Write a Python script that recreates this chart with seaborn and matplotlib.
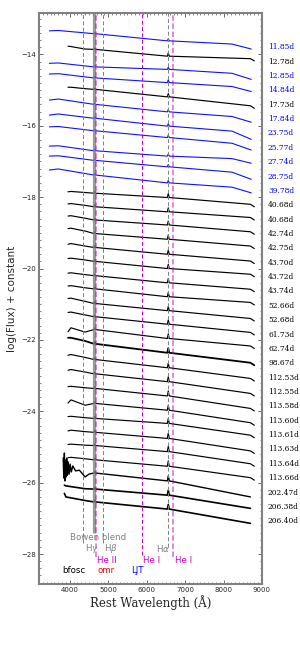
import numpy as np
import pandas as pd
import matplotlib
matplotlib.use("Agg")
import matplotlib.pyplot as plt
import matplotlib.transforms as mtransforms
from matplotlib.ticker import MultipleLocator
import seaborn as sns

sns.set_style("ticks")
plt.rcParams['font.family'] = ['DejaVu Sans']

# LJT spectra (blue), continuum knots in Angstrom
wl_ljt = [3470, 3700, 4650, 6563, 8220, 8720]
flux_ljt = [
    [-13.34, -13.33, -13.42, -13.62, -13.71, -13.85],
    [-14.25, -14.24, -14.35, -14.42, -14.53, -14.70],
    [-14.55, -14.54, -14.66, -14.79, -14.90, -15.04],
    [-15.28, -15.25, -15.40, -15.61, -15.74, -15.90],
    [-15.70, -15.67, -15.79, -16.01, -16.15, -16.38],
    [-16.03, -16.02, -16.14, -16.33, -16.49, -16.68],
    [-16.57, -16.56, -16.70, -16.85, -16.92, -17.05],
    [-16.85, -16.84, -16.97, -17.15, -17.30, -17.50],
    [-17.24, -17.21, -17.38, -17.60, -17.72, -17.88],
]
ha_ljt = [0.06, 0.06, 0.08, 0.07, 0.07, 0.07, 0.06, 0.07, 0.07]
heii_ljt = [0.04, 0.04, 0.05, 0.04, 0.04, 0.04, 0.04, 0.04, 0.04]

# bfosc spectra (black)
wl_bf = [3955, 4030, 4400, 4650, 6563, 8700, 8800]
flux_bf = [
    [-13.77, -13.78, -13.85, -13.86, -14.05, -14.12, -14.18],
    [-14.92, -14.92, -14.96, -14.98, -15.19, -15.44, -15.51],
    [-17.85, -17.84, -17.87, -17.89, -18.01, -18.20, -18.27],
    [-18.19, -18.18, -18.23, -18.27, -18.41, -18.57, -18.64],
    [-18.53, -18.52, -18.59, -18.64, -18.78, -18.97, -19.04],
    [-18.88, -18.87, -18.95, -19.02, -19.18, -19.37, -19.44],
    [-19.32, -19.30, -19.37, -19.41, -19.60, -19.79, -19.86],
    [-19.72, -19.71, -19.76, -19.80, -20.00, -20.16, -20.23],
    [-20.13, -20.12, -20.17, -20.20, -20.40, -20.58, -20.65],
    [-20.49, -20.48, -20.54, -20.57, -20.79, -20.95, -21.02],
    [-20.84, -20.83, -20.92, -20.98, -21.18, -21.40, -21.47],
    [-21.23, -21.22, -21.30, -21.35, -21.56, -21.79, -21.86],
    [-21.77, -21.66, -21.78, -21.71, -21.96, -22.17, -22.24],
    [-21.94, -21.94, -22.03, -22.11, -22.36, -22.64, -22.71],
    [-22.43, -22.41, -22.49, -22.55, -22.78, -23.08, -23.15],
    [-22.85, -22.83, -22.90, -22.95, -23.17, -23.50, -23.57],
    [-23.31, -23.30, -23.34, -23.36, -23.57, -23.92, -23.99],
    [-23.77, -23.68, -23.83, -23.78, -23.97, -24.32, -24.39],
    [-24.15, -24.14, -24.18, -24.20, -24.34, -24.67, -24.74],
    [-24.55, -24.53, -24.57, -24.59, -24.76, -25.11, -25.18],
    [-24.93, -24.92, -24.95, -24.96, -25.13, -25.47, -25.54],
    [-25.30, -25.29, -25.33, -25.36, -25.54, -25.86, -25.93],
]
ha_bf = [0.09, 0.09, 0.11, 0.11, 0.11, 0.12, 0.12, 0.12, 0.12, 0.12, 0.12,
         0.12, 0.13, 0.13, 0.13, 0.14, 0.14, 0.14, 0.14, 0.15, 0.15, 0.15]
heii_bf = [0.04] * 2 + [0.05] * 20
noisy_bf = [False] * 13 + [True] + [False] * 8

# late bfosc spectra, bluer start, no red hook
wl_late = [3860, 3900, 4400, 4650, 6563, 8700]
flux_late = [
    [-26.07, -26.09, -26.17, -26.18, -26.35, -26.72],
    [-26.30, -26.40, -26.50, -26.54, -26.74, -27.14],
]
ha_late = [0.14, 0.13]

# 202.47d, very noisy blue end
wl_noisy = [3830, 3845, 3860, 3875, 3890, 3905, 3920, 3940, 3960, 3985,
            4010, 4040, 4080, 4150, 4250, 4400, 4500, 4650, 6563, 8700]
flux_noisy = [-25.31, -25.87, -25.17, -25.95, -25.37, -25.84, -25.31, -25.79,
              -25.42, -25.76, -25.48, -25.70, -25.53, -25.67, -25.65, -25.84,
              -25.76, -25.73, -25.95, -26.40]

phases = ["11.85d", "12.78d", "12.85d", "14.84d", "17.73d", "17.84d", "23.75d",
          "25.77d", "27.74d", "28.75d", "39.78d", "40.68d", "40.68d", "42.74d",
          "42.75d", "43.70d", "43.72d", "43.74d", "52.66d", "52.68d", "61.73d",
          "62.74d", "98.67d", "112.53d", "112.55d", "113.58d", "113.60d",
          "113.61d", "113.63d", "113.64d", "113.66d", "202.47d", "206.38d",
          "206.40d"]
label_colors = ["blue", "black", "blue", "blue", "black"] + ["blue"] * 6 + ["black"] * 23


def spectrum(wl, fl, ha, heii):
    xs, ys = [], []
    for w, f in zip(wl, fl):
        if w == 6563:
            xs += [w - 25, w, w + 25]
            ys += [f, f + ha, f]
        elif w == 4650:
            xs += [w - 20, w, w + 20]
            ys += [f, f + heii, f]
        else:
            xs.append(w)
            ys.append(f)
    return pd.DataFrame({"wave": xs, "flux": ys})


fig = plt.figure(figsize=(3.0, 6.5), dpi=100)
ax = fig.add_axes([0.13, 0.1015, 0.7433, 0.8785])
ymin, ymax = -28.84, -12.84

for fl, ha, he in zip(flux_ljt, ha_ljt, heii_ljt):
    sns.lineplot(data=spectrum(wl_ljt, fl, ha, he), x="wave", y="flux", sort=False,
                 estimator=None, color="#1010ff", lw=0.8, ax=ax)
for fl, ha, he, nz in zip(flux_bf, ha_bf, heii_bf, noisy_bf):
    sns.lineplot(data=spectrum(wl_bf, fl, ha, he), x="wave", y="flux", sort=False,
                 estimator=None, color="black", lw=1.3 if nz else 0.85, ax=ax)
for fl, ha in zip(flux_late, ha_late):
    sns.lineplot(data=spectrum(wl_late, fl, ha, 0.04), x="wave", y="flux", sort=False,
                 estimator=None, color="black", lw=1.2, ax=ax)
sns.lineplot(data=spectrum(wl_noisy, flux_noisy, 0.14, 0.04), x="wave", y="flux",
             sort=False, estimator=None, color="black", lw=1.0, ax=ax)

# line markers
dash = (0, (4, 2.5))
ax.vlines([4340, 4861], -27.69, ymax, colors="gray", linestyles=[dash], lw=0.7, zorder=3)
ax.vlines(6563, -27.80, ymax, colors="gray", linestyles=[dash], lw=0.7, zorder=3)
ax.vlines(4640, -27.41, ymax, colors="gray", lw=2.3, alpha=0.8, zorder=3)
ax.vlines([4686, 6678], -28.08, ymax, colors="m", linestyles=[(0, (3, 1.5))], lw=1.3,
          alpha=0.5, zorder=3)
ax.vlines(5876, -28.03, ymax, colors="#c000c0", linestyles=[dash], lw=0.7, zorder=3)

fs = 6.2
ax.text(4000, -27.55, "Bowen blend", color="gray", fontsize=fs, va="center")
ax.text(4390, -27.84, r"H$\gamma$", color="gray", fontsize=fs, va="center")
ax.text(4893, -27.84, r"H$\beta$", color="gray", fontsize=fs, va="center")
ax.text(6255, -27.84, r"H$\alpha$", color="gray", fontsize=fs, va="center")
ax.text(4721, -28.17, "He II", color="#cc00cc", fontsize=fs, va="center")
ax.text(5909, -28.17, "He I", color="#cc00cc", fontsize=fs, va="center")
ax.text(6734, -28.17, "He I", color="#cc00cc", fontsize=fs, va="center")
ax.text(3810, -28.45, "bfosc", color="black", fontsize=fs, va="center")
ax.text(4711, -28.45, "omr", color="red", fontsize=fs, va="center")
ax.text(5607, -28.45, "LJT", color="blue", fontsize=fs, va="center")

trans = mtransforms.blended_transform_factory(ax.transAxes, ax.transData)
for i, (p, c) in enumerate(zip(phases, label_colors)):
    ax.text(1.027, -13.80 - 0.4025 * i, p, color=c, fontsize=5.4, va="center",
            ha="left", transform=trans, family="DejaVu Serif")

ax.set_xlim(3200, 9000)
ax.set_ylim(ymin, ymax)
ax.set_xticks([4000, 5000, 6000, 7000, 8000, 9000])
ax.set_yticks(np.arange(-28, -13, 2))
ax.xaxis.set_minor_locator(MultipleLocator(100))
ax.yaxis.set_minor_locator(MultipleLocator(0.2))
ax.tick_params(which="both", direction="in", top=True, right=True, labelsize=5,
               color="#555555")
ax.tick_params(which="major", length=3, width=0.6, pad=2)
ax.tick_params(which="minor", length=1.5, width=0.5)
for s in ax.spines.values():
    s.set_color("gray")
    s.set_linewidth(1.5)
ax.set_xlabel("Rest Wavelength (Å)", family="DejaVu Serif", fontsize=8.5, labelpad=2)
ax.set_ylabel("log(Flux) + constant", fontsize=7.5, labelpad=3)

fig.savefig("out.png", dpi=100)
